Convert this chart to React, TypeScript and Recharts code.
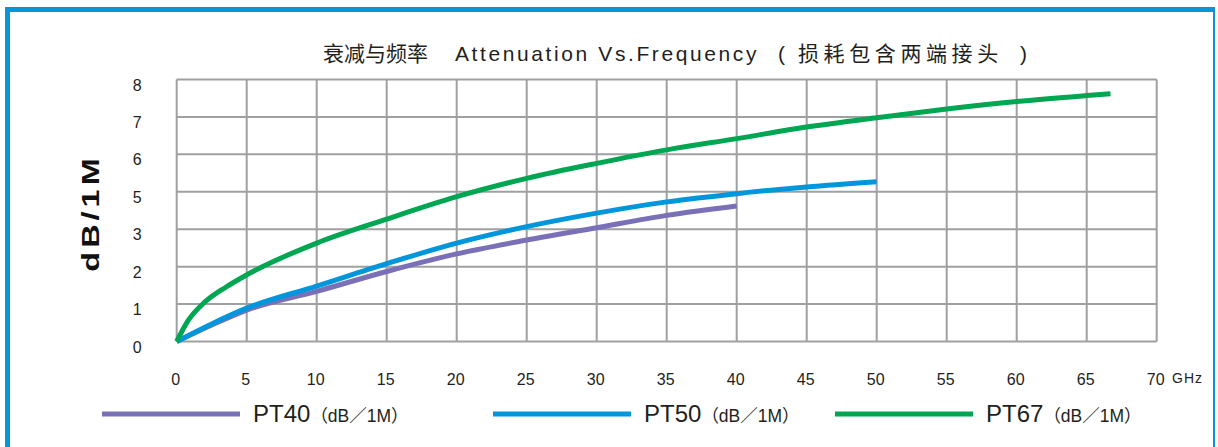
import { LineChart, Line, XAxis, YAxis, CartesianGrid } from 'recharts'

const FONT = '"Liberation Sans", Arial, "Noto Sans CJK SC", sans-serif'
const INK = '#231f20'
const FRAME = '#0a93d5'

// 横轴 GHz，纵轴为网格位置（原图纵轴标签缺 4）
const xTicks = [0, 5, 10, 15, 20, 25, 30, 35, 40, 45, 50, 55, 60, 65, 70]
const yTicks = [0, 1, 2, 3, 4, 5, 6, 7]
const yTickLabels = ['0', '1', '2', '3', '5', '6', '7', '8']

const pt40Freq = [0, 2.5, 5, 10, 15, 20, 25, 30, 35, 40]
const pt40Loss = [0, 0.44, 0.84, 1.34, 1.87, 2.34, 2.71, 3.04, 3.37, 3.62]

const pt50Freq = [0, 2.5, 5, 10, 15, 20, 25, 30, 35, 40, 45, 50]
const pt50Loss = [0, 0.47, 0.89, 1.48, 2.08, 2.63, 3.07, 3.43, 3.73, 3.95, 4.13, 4.27]

const pt67Freq = [0, 0.8, 2, 3.5, 5, 10, 15, 20, 25, 30, 35, 40, 45, 50, 55, 60, 65, 66.7]
const pt67Loss = [0, 0.55, 1.05, 1.45, 1.78, 2.63, 3.27, 3.87, 4.36, 4.76, 5.12, 5.42, 5.73, 5.98, 6.21, 6.41, 6.57, 6.62]

const toRows = (f: number[], v: number[]) => f.map((ghz, i) => ({ ghz, db: v[i] }))

const series = [
  { name: 'PT40', color: '#7a70b8', data: toRows(pt40Freq, pt40Loss) },
  { name: 'PT50', color: '#0096db', data: toRows(pt50Freq, pt50Loss) },
  { name: 'PT67', color: '#00a651', data: toRows(pt67Freq, pt67Loss) },
]
const legendLeft = [102, 493, 835]

const YTick = ({ x, y, payload }: any) => (
  <text x={x} y={y + 11} textAnchor="end" fontSize={16} fill={INK} fontFamily={FONT}>
    {yTickLabels[payload.value]}
  </text>
)

const XTick = ({ x, y, payload }: any) => (
  <text x={x - 1} y={y + 43} textAnchor="middle" fontSize={16} fill={INK} fontFamily={FONT}>
    {payload.value}
  </text>
)

export default function App() {
  return (
    <div style={{ position: 'absolute', left: 0, top: 0, width: 1218, height: 447, background: '#fff', overflow: 'hidden' }}>
      <div
        style={{
          position: 'absolute', left: 5, top: 7, width: 1210, height: 460, boxSizing: 'border-box',
          borderTop: `5px solid ${FRAME}`, borderLeft: `5px solid ${FRAME}`, borderRight: `2px solid ${FRAME}`,
        }}
      />
      <div style={{ position: 'absolute', left: 0, top: 0 }}>
        <LineChart width={1218} height={447} margin={{ top: 79.5, right: 61.3, bottom: 75.5, left: 136.7 }}>
          <CartesianGrid stroke="#a0a0a2" strokeWidth={2} />
          <XAxis
            type="number" dataKey="ghz" domain={[0, 70]} ticks={xTicks} height={30}
            axisLine={false} tickLine={false} tickSize={0} tickMargin={0} tick={<XTick />}
            allowDuplicatedCategory={false}
          />
          <YAxis
            type="number" domain={[0, 7]} ticks={yTicks} width={40}
            axisLine={false} tickLine={false} tickSize={0} tickMargin={35} tick={<YTick />}
          />
          {series.map(s => (
            <Line
              key={s.name} data={s.data} dataKey="db" name={s.name} type="monotone"
              stroke={s.color} strokeWidth={5} dot={false} activeDot={false} isAnimationActive={false}
            />
          ))}
        </LineChart>
      </div>
      <svg width={1218} height={447} style={{ position: 'absolute', left: 0, top: 0, pointerEvents: 'none' }} fontFamily={FONT}>
        <g fill={INK}>
          <text x={323} y={61} fontSize={21} letterSpacing={0}>衰减与频率</text>
          <text x={455} y={61} fontSize={21} letterSpacing={2.6}>Attenuation Vs.Frequency</text>
          <text x={778} y={61} fontSize={21}>(</text>
          <text x={798} y={61} fontSize={21} letterSpacing={4.6}>损耗包含两端接头</text>
          <text x={1020} y={61} fontSize={21}>)</text>
          <text x={1172} y={383} fontSize={14} letterSpacing={1}>GHz</text>
          <text
            transform="translate(99 213) rotate(-90) scale(1.35 1)" textAnchor="middle"
            fontSize={24} fontWeight="bold" letterSpacing={3} fill="#111"
          >
            dB/1M
          </text>
        </g>
        {series.map((s, i) => (
          <g key={s.name}>
            <rect x={legendLeft[i]} y={411.5} width={138} height={5} fill={s.color} />
            <text x={legendLeft[i] + 151} y={421.5} fill={INK}>
              <tspan fontSize={24}>{s.name}</tspan>
              <tspan fontSize={17.5}>（dB／1M）</tspan>
            </text>
          </g>
        ))}
      </svg>
    </div>
  )
}
